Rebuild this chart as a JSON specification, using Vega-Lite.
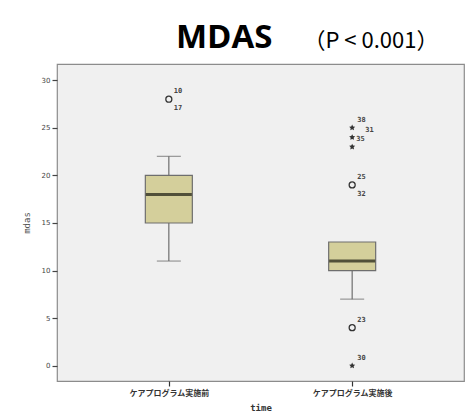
{
  "$schema": "https://vega.github.io/schema/vega-lite/v6.json",
  "autosize": {"type": "none"},
  "width": 407,
  "height": 317,
  "padding": {"left": 57, "top": 64, "right": 3, "bottom": 33},
  "background": "white",
  "title": {
    "text": "MDAS",
    "font": "Open Sans",
    "fontSize": 33,
    "fontWeight": "bold",
    "color": "black",
    "anchor": "start",
    "frame": "group",
    "dx": 119,
    "offset": -52,
    "baseline": "alphabetic"
  },
  "config": {
    "view": {"fill": "#f0f0f0", "stroke": "#8c8c8c", "strokeWidth": 1.2},
    "axis": {"grid": false}
  },
  "datasets": {
    "boxes": [
      {"time": "ケアプログラム実施前", "lo": 11, "q1": 15, "med": 18, "q3": 20, "hi": 22},
      {"time": "ケアプログラム実施後", "lo": 7, "q1": 10, "med": 11, "q3": 13, "hi": 13}
    ],
    "outliers": [
      {"time": "ケアプログラム実施前", "mdas": 28, "kind": "circle", "top": "10", "bottom": "17"},
      {"time": "ケアプログラム実施後", "mdas": 25, "kind": "star", "top": "38", "far": "31"},
      {"time": "ケアプログラム実施後", "mdas": 24, "kind": "star", "right": "35"},
      {"time": "ケアプログラム実施後", "mdas": 23, "kind": "star"},
      {"time": "ケアプログラム実施後", "mdas": 19, "kind": "circle", "top": "25", "bottom": "32"},
      {"time": "ケアプログラム実施後", "mdas": 4, "kind": "circle", "top": "23"},
      {"time": "ケアプログラム実施後", "mdas": 0, "kind": "star", "top": "30"}
    ]
  },
  "resolve": {"axis": {"x": "independent", "y": "independent"}},
  "layer": [
    {
      "data": {"name": "boxes"},
      "mark": {"type": "rule", "color": "#6e6e6e", "strokeWidth": 1.2},
      "encoding": {
        "x": {
          "field": "time", "type": "nominal", "sort": null,
          "scale": {"type": "point", "padding": 0.61},
          "axis": {
            "title": "time", "titleFont": "DejaVu Sans Mono", "titleFontSize": 9, "titleFontWeight": "bold",
            "titleColor": "#333", "titlePadding": 6,
            "labelFont": "Noto Sans CJK JP", "labelFontSize": 8, "labelFontWeight": "bold", "labelColor": "#333",
            "labelAngle": 0, "labelPadding": 3,
            "tickSize": 5, "tickColor": "#333", "tickWidth": 1.2, "domain": false
          }
        },
        "y": {
          "field": "lo", "type": "quantitative",
          "scale": {"domain": [-1.6, 31.7], "nice": false, "zero": false},
          "axis": {
            "title": "mdas", "titleFont": "DejaVu Sans Mono", "titleFontSize": 9, "titleColor": "#555",
            "titleFontWeight": "normal", "titlePadding": 10,
            "values": [0, 5, 10, 15, 20, 25, 30],
            "labelFont": "DejaVu Sans", "labelFontSize": 7, "labelColor": "#444", "labelPadding": 2,
            "tickSize": 5, "tickColor": "#444", "tickWidth": 1.2, "domain": false
          }
        },
        "y2": {"field": "q1"}
      }
    },
    {
      "data": {"name": "boxes"},
      "transform": [{"filter": "datum.hi > datum.q3"}],
      "mark": {"type": "rule", "color": "#6e6e6e", "strokeWidth": 1.2},
      "encoding": {
        "x": {"field": "time", "type": "nominal", "sort": null, "axis": null},
        "y": {"field": "q3", "type": "quantitative", "axis": null},
        "y2": {"field": "hi"}
      }
    },
    {
      "data": {"name": "boxes"},
      "mark": {"type": "tick", "color": "#6e6e6e", "size": 24, "thickness": 1.2, "orient": "horizontal"},
      "encoding": {
        "x": {"field": "time", "type": "nominal", "sort": null, "axis": null},
        "y": {"field": "lo", "type": "quantitative", "axis": null}
      }
    },
    {
      "data": {"name": "boxes"},
      "transform": [{"filter": "datum.hi > datum.q3"}],
      "mark": {"type": "tick", "color": "#6e6e6e", "size": 24, "thickness": 1.2, "orient": "horizontal"},
      "encoding": {
        "x": {"field": "time", "type": "nominal", "sort": null, "axis": null},
        "y": {"field": "hi", "type": "quantitative", "axis": null}
      }
    },
    {
      "data": {"name": "boxes"},
      "mark": {"type": "bar", "size": 47, "fill": "#d4cf9b", "stroke": "#6e6e6e", "strokeWidth": 1.2},
      "encoding": {
        "x": {"field": "time", "type": "nominal", "sort": null, "axis": null},
        "y": {"field": "q1", "type": "quantitative", "axis": null},
        "y2": {"field": "q3"}
      }
    },
    {
      "data": {"name": "boxes"},
      "mark": {"type": "tick", "color": "#1a1a10", "size": 46, "thickness": 3, "orient": "horizontal"},
      "encoding": {
        "x": {"field": "time", "type": "nominal", "sort": null, "axis": null},
        "y": {"field": "med", "type": "quantitative", "axis": null}
      }
    },
    {
      "data": {"name": "outliers"},
      "transform": [{"filter": "datum.kind == 'circle'"}],
      "mark": {"type": "point", "shape": "circle", "filled": false, "size": 36, "stroke": "#333", "strokeWidth": 1.3, "opacity": 1},
      "encoding": {
        "x": {"field": "time", "type": "nominal", "sort": null, "axis": null},
        "y": {"field": "mdas", "type": "quantitative", "axis": null}
      }
    },
    {
      "data": {"name": "outliers"},
      "transform": [{"filter": "datum.kind == 'star'"}],
      "mark": {"type": "point", "shape": "M0,-1L0.29,-0.4L0.95,-0.31L0.47,0.15L0.59,0.81L0,0.5L-0.59,0.81L-0.47,0.15L-0.95,-0.31L-0.29,-0.4Z", "filled": true, "size": 40, "color": "#333", "opacity": 1},
      "encoding": {
        "x": {"field": "time", "type": "nominal", "sort": null, "axis": null},
        "y": {"field": "mdas", "type": "quantitative", "axis": null}
      }
    },
    {
      "data": {"name": "outliers"},
      "transform": [{"filter": "isValid(datum.top)"}],
      "mark": {"type": "text", "align": "left", "baseline": "middle", "dx": 5, "dy": -8, "font": "DejaVu Sans Mono", "fontSize": 7, "fontWeight": "bold", "color": "#444"},
      "encoding": {
        "x": {"field": "time", "type": "nominal", "sort": null, "axis": null},
        "y": {"field": "mdas", "type": "quantitative", "axis": null},
        "text": {"field": "top"}
      }
    },
    {
      "data": {"name": "outliers"},
      "transform": [{"filter": "isValid(datum.bottom)"}],
      "mark": {"type": "text", "align": "left", "baseline": "middle", "dx": 5, "dy": 9, "font": "DejaVu Sans Mono", "fontSize": 7, "fontWeight": "bold", "color": "#444"},
      "encoding": {
        "x": {"field": "time", "type": "nominal", "sort": null, "axis": null},
        "y": {"field": "mdas", "type": "quantitative", "axis": null},
        "text": {"field": "bottom"}
      }
    },
    {
      "data": {"name": "outliers"},
      "transform": [{"filter": "isValid(datum.right)"}],
      "mark": {"type": "text", "align": "left", "baseline": "middle", "dx": 4, "dy": 2, "font": "DejaVu Sans Mono", "fontSize": 7, "fontWeight": "bold", "color": "#444"},
      "encoding": {
        "x": {"field": "time", "type": "nominal", "sort": null, "axis": null},
        "y": {"field": "mdas", "type": "quantitative", "axis": null},
        "text": {"field": "right"}
      }
    },
    {
      "data": {"name": "outliers"},
      "transform": [{"filter": "isValid(datum.far)"}],
      "mark": {"type": "text", "align": "left", "baseline": "middle", "dx": 13, "dy": 2, "font": "DejaVu Sans Mono", "fontSize": 7, "fontWeight": "bold", "color": "#444"},
      "encoding": {
        "x": {
          "field": "time", "type": "nominal", "sort": null,
          "axis": {
            "orient": "top", "labels": false, "ticks": false, "domain": false,
            "title": "（P < 0.001）", "titleFont": "Noto Sans CJK JP", "titleFontSize": 22, "titleFontWeight": "normal",
            "titleColor": "black", "titleAlign": "left", "titleAnchor": null, "titleBaseline": "alphabetic",
            "titleX": 246, "titleY": -17
          }
        },
        "y": {"field": "mdas", "type": "quantitative", "axis": null},
        "text": {"field": "far"}
      }
    }
  ]
}
